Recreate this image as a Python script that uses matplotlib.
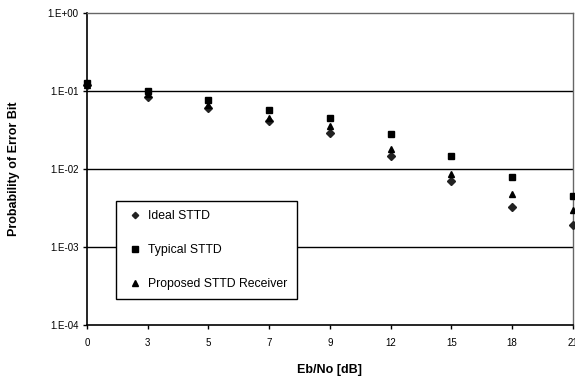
import matplotlib
matplotlib.use("Agg")
import matplotlib.pyplot as plt
import numpy as np

plt.rcParams['font.family'] = ['Liberation Sans', 'DejaVu Sans']

categories = ["0", "3", "5", "7", "9", "12", "15", "18", "21"]
ideal_sttd = [0.119, 0.084, 0.061, 0.041, 0.029, 0.0147, 0.0070, 0.0033, 0.0019]
typical_sttd = [0.126, 0.100, 0.077, 0.057, 0.045, 0.028, 0.0147, 0.0079, 0.0045]
proposed_sttd = [0.119, 0.092, 0.066, 0.045, 0.036, 0.018, 0.0087, 0.0048, 0.0030]
ytick_vals = [1e-4, 1e-3, 1e-2, 1e-1, 1e0]
ytick_labels = ["1.E-04", "1.E-03", "1.E-02", "1.E-01", "1.E+00"]

fig = plt.figure(figsize=(5.75, 3.8), dpi=100)
ax = fig.add_axes([0.1513, 0.1447, 0.845, 0.82])

x = np.arange(len(categories))
ax.plot(x, ideal_sttd, linestyle='none', marker='D', markersize=3.8, color='#222222',
        label='Ideal STTD', clip_on=False, zorder=3)
ax.plot(x, typical_sttd, linestyle='none', marker='s', markersize=4.5, color='black',
        label='Typical STTD', clip_on=False, zorder=3)
ax.plot(x, proposed_sttd, linestyle='none', marker='^', markersize=4.5, color='black',
        label='Proposed STTD Receiver', clip_on=False, zorder=4)

ax.set_yscale('log')
ax.set_ylim(1e-4, 1e0)
ax.set_xlim(0, len(categories) - 1)
ax.set_xticks(x)
ax.set_xticklabels(categories)
ax.set_yticks(ytick_vals)
ax.set_yticklabels(ytick_labels)
ax.yaxis.set_minor_locator(matplotlib.ticker.NullLocator())
ax.tick_params(axis='x', labelsize=7, length=3, width=1, direction='out', pad=6)
ax.tick_params(axis='y', labelsize=7, length=3, width=1, direction='out', pad=3)

for v in [1e-3, 1e-2, 1e-1]:
    ax.axhline(v, color='black', linewidth=1.0, zorder=1)

for side in ['left', 'bottom']:
    ax.spines[side].set_linewidth(1.2)
    ax.spines[side].set_color('black')
for side in ['top', 'right']:
    ax.spines[side].set_linewidth(1.0)
    ax.spines[side].set_color('#666666')

ax.set_ylabel('Probability of Error Bit', fontsize=9, fontweight='bold', labelpad=20)
ax.set_xlabel('Eb/No [dB]', fontsize=9, fontweight='bold', labelpad=12)

leg = ax.legend(loc='upper left', bbox_to_anchor=(0.0597, 0.398), fontsize=8.8,
                frameon=True, fancybox=False, edgecolor='black', framealpha=1,
                borderpad=0.75, labelspacing=1.8, handletextpad=0.3, handlelength=1.6,
                borderaxespad=0, markerscale=0.85)
leg.get_frame().set_linewidth(1.0)
leg.set_zorder(5)

fig.savefig('out.png', dpi=100)
